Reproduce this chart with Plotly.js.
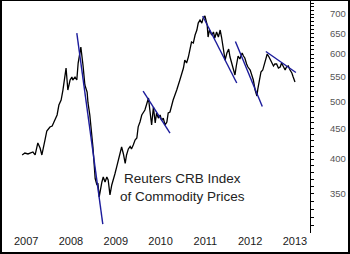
<!DOCTYPE html>
<html><head><meta charset="utf-8">
<script src="https://cdn.plot.ly/plotly-3.0.1.min.js"></script>
<style>
html,body{margin:0;padding:0;background:#fff;}
#wrap{position:relative;width:350px;height:254px;}
#chart{position:absolute;left:0;top:0;width:350px;height:254px;}
#frame{position:absolute;left:0;top:0;width:350px;height:254px;box-sizing:border-box;border:2px solid #000;border-top-width:1px;pointer-events:none;}
</style></head>
<body>
<div id="wrap"><div id="chart"></div><div id="frame"></div></div>
<script>
// CRB index (approx.); x in years
const crbYears = [2006.91,2006.97,2007.04,2007.11,2007.15,2007.20,2007.26,2007.31,2007.35,2007.42,2007.46,2007.53,2007.58,2007.62,2007.69,2007.73,2007.78,2007.82,2007.87,2007.89,2007.93,2007.98,2008.02,2008.04,2008.09,2008.13,2008.16,2008.20,2008.22,2008.27,2008.31,2008.36,2008.38,2008.42,2008.45,2008.49,2008.54,2008.58,2008.60,2008.63,2008.69,2008.72,2008.76,2008.80,2008.83,2008.87,2008.91,2008.94,2008.98,2009.02,2009.06,2009.09,2009.13,2009.17,2009.21,2009.24,2009.28,2009.32,2009.35,2009.39,2009.43,2009.47,2009.50,2009.54,2009.58,2009.65,2009.69,2009.73,2009.76,2009.80,2009.84,2009.88,2009.91,2009.95,2009.99,2010.02,2010.06,2010.10,2010.14,2010.17,2010.21,2010.25,2010.28,2010.36,2010.40,2010.43,2010.51,2010.54,2010.58,2010.62,2010.69,2010.73,2010.77,2010.81,2010.84,2010.88,2010.92,2010.95,2010.99,2011.01,2011.04,2011.06,2011.09,2011.14,2011.18,2011.21,2011.25,2011.29,2011.33,2011.36,2011.39,2011.44,2011.48,2011.52,2011.55,2011.59,2011.64,2011.66,2011.69,2011.73,2011.77,2011.82,2011.85,2011.88,2011.92,2011.95,2012.00,2012.03,2012.07,2012.11,2012.15,2012.17,2012.21,2012.24,2012.28,2012.31,2012.35,2012.38,2012.42,2012.48,2012.52,2012.55,2012.59,2012.63,2012.67,2012.70,2012.74,2012.78,2012.81,2012.85,2012.89,2012.93,2012.96,2013.00];
const crbValues = [406.5,409.6,408.1,409.6,411.2,406.5,425.8,417.6,406.5,430.7,445.9,452.8,454.6,461.6,474.3,492.8,502.5,522.2,564.0,568.4,522.2,542.8,549.0,542.8,549.0,542.8,579.5,609.3,616.1,572.9,532.3,518.2,496.8,474.3,452.8,419.2,371.0,362.1,364.9,345.8,366.3,373.4,366.3,373.4,369.2,348.5,362.1,370.6,377.8,388.2,398.0,406.5,419.2,408.1,393.5,406.5,416.1,420.0,416.1,422.4,430.7,434.0,453.0,461.6,474.3,483.5,496.8,506.4,483.5,456.3,489.1,459.9,477.9,468.7,474.3,465.1,468.7,456.3,461.6,477.9,479.8,496.8,502.5,522.2,536.0,542.8,568.4,586.2,579.5,593.1,628.3,625.9,645.5,658.1,676.0,684.0,676.0,689.2,694.6,684.0,671.0,640.6,658.1,645.5,653.1,638.2,653.1,640.6,658.1,640.6,616.1,586.2,602.3,611.5,593.1,579.5,564.0,553.3,572.9,595.4,588.6,602.3,595.4,590.9,577.3,570.6,564.0,555.4,542.8,522.2,510.3,524.1,546.9,559.7,564.0,575.1,590.9,600.0,593.1,579.5,572.9,577.3,577.3,568.4,570.6,579.5,570.6,564.0,570.6,572.9,564.0,557.6,549.0,538.5];

// hand-drawn trend lines (pairs of points, null separates lines)
const trendYears  = [2008.13,2008.71,null,2009.61,2010.21,null,2010.94,2011.70,null,2011.67,2012.27,null,2012.35,2013.02];
const trendValues = [650.5,311.4,null,520.1,442.4,null,694.6,536.5,null,629.6,490.0,null,605.7,558.6];

const yearTicks = [2007,2008,2009,2010,2011,2012,2013];
const yearLabels = ['2007','2008','2009','2010','2011','2012','2013'];

const yTickVals = [];
const yTickText = [];
for (let v = 300; v <= 740; v += 10) { yTickVals.push(v); yTickText.push(v % 50 === 0 && v >= 350 && v <= 700 ? String(v) : ''); }

const traces = [
  {x: crbYears, y: crbValues, type:'scatter', mode:'lines', line:{color:'#000', width:1.3}, hoverinfo:'skip'},
  {x: trendYears, y: trendValues, type:'scatter', mode:'lines', connectgaps:false, line:{color:'#1c1c9c', width:1.4}, hoverinfo:'skip'}
];

const layout = {
  width:350, height:254,
  margin:{l:5, r:40, t:0, b:21},
  paper_bgcolor:'#fff', plot_bgcolor:'#fff',
  showlegend:false,
  font:{family:'Liberation Sans, Arial, sans-serif', color:'#222'},
  xaxis:{range:[2006.527, 2013.335], tickmode:'array', tickvals:yearTicks, ticktext:yearLabels,
         showgrid:false, zeroline:false, showline:false, ticks:'', tickfont:{size:11, color:'#1a1a1a'}},
  yaxis:{type:'log', side:'right', range:[Math.log10(300.9), Math.log10(738.9)],
         tickmode:'array', tickvals:yTickVals, ticktext:yTickText,
         showgrid:false, zeroline:false, showline:true, linecolor:'#000', linewidth:1,
         ticks:'outside', ticklen:3, tickcolor:'#000', tickwidth:1,
         ticklabelstandoff:14, tickfont:{size:9.5, color:'#555'}},
  annotations:[{xref:'paper', yref:'paper', x:0.582, y:0.197, xanchor:'center', yanchor:'middle',
    text:'Reuters CRB Index<br>of Commodity Prices', showarrow:false, align:'center',
    font:{size:13.5, color:'#222', family:'Liberation Sans, Arial, sans-serif'}}]
};
Plotly.newPlot('chart', traces, layout, {staticPlot:true, displayModeBar:false});
</script>
</body></html>
